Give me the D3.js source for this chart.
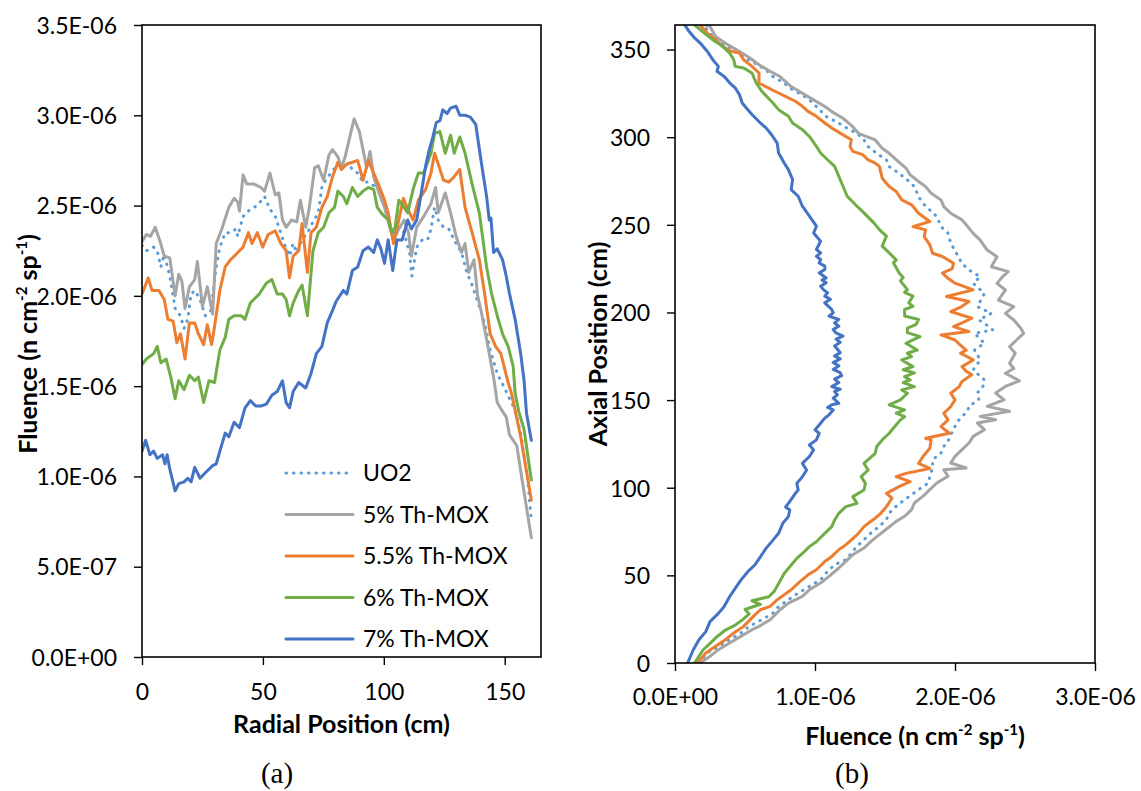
<!DOCTYPE html>
<html>
<head>
<meta charset="utf-8">
<script src="https://cdn.jsdelivr.net/npm/d3@7"></script>
<style>
  html, body { margin: 0; padding: 0; background: #fff; }
  svg { display: block; }
  text { font-family: Lato, "Open Sans", sans-serif; fill: #000; }
</style>
</head>
<body>
<svg id="fig" width="1141" height="791"></svg>
<script>
// Fluence values are given in units of 1e-6 n cm^-2 sp^-1
const UNIT = 1e-6;

const seriesNames = ["UO2", "5% Th-MOX", "5.5% Th-MOX", "6% Th-MOX", "7% Th-MOX"];
const seriesColors = ["#5B9BD5", "#A5A5A5", "#ED7D31", "#70AD47", "#4472C4"];

// ---- (a) radial profiles: [radial position (cm), fluence] ----
const radialUO2 = [[0,2.28],[1.8,2.25],[3.5,2.26],[4.8,2.27],[6.3,2.25],[7.8,2.16],[9.2,2.23],[11.5,2.11],[13.7,1.93],[15.9,1.89],[17.4,1.82],[18.9,1.87],[20.3,2.01],[21.8,2.03],[24,1.98],[26.2,1.89],[28.5,1.92],[30.7,2.16],[32.2,2.27],[34.4,2.35],[36.5,2.35],[38.9,2.37],[39.6,2.33],[41.8,2.44],[44.8,2.48],[47.7,2.50],[50.7,2.55],[52.9,2.48],[55.1,2.44],[56.6,2.38],[58.8,2.29],[61,2.22],[62.5,2.29],[64,2.24],[66.2,2.31],[68.4,2.35],[70.7,2.41],[72.9,2.46],[74.4,2.60],[75.9,2.64],[78.1,2.68],[81,2.73],[83.3,2.72],[85.5,2.73],[87,2.70],[89.2,2.68],[91.4,2.63],[93.6,2.63],[95.8,2.61],[98,2.59],[100.3,2.49],[102.5,2.38],[104,2.35],[106.2,2.38],[108.4,2.35],[110.6,2.24],[111.6,2.11],[113.6,2.27],[115.9,2.31],[118.1,2.31],[119.5,2.37],[121,2.49],[122.5,2.42],[124.7,2.38],[126.9,2.37],[129.1,2.31],[132.1,2.24],[134.3,2.13],[136.5,2.06],[139.5,1.94],[141.7,1.85],[144,1.70],[146.9,1.57],[149.9,1.49],[152,1.43],[154.3,1.37],[156.6,1.24],[159.5,0.98],[161,0.76]];
const radialTh50 = [[0,2.30],[1.8,2.34],[3.5,2.33],[5.5,2.38],[7.5,2.30],[9.2,2.22],[11.5,2.21],[13.7,2.00],[15.2,2.12],[16.5,2.08],[17.8,1.93],[19.6,2.05],[21.8,2.09],[22.9,2.19],[25,1.94],[27,2.05],[29.2,1.90],[30.7,2.29],[33,2.37],[35.9,2.49],[38.1,2.54],[39.6,2.52],[40.3,2.47],[41.8,2.67],[43.3,2.62],[46.2,2.62],[49.2,2.60],[50.7,2.58],[52.9,2.68],[55.1,2.56],[56.6,2.57],[58.1,2.42],[59.6,2.38],[61.8,2.42],[64,2.41],[65.5,2.53],[67.7,2.38],[69.2,2.49],[71.4,2.71],[72.9,2.72],[75.1,2.64],[77.3,2.78],[78.8,2.81],[81,2.77],[82.5,2.71],[84,2.77],[87.7,2.98],[89.9,2.91],[91.4,2.81],[92.9,2.71],[94.3,2.80],[95.8,2.66],[98,2.57],[100.3,2.49],[102.5,2.38],[104,2.31],[106.2,2.37],[108.4,2.42],[110.2,2.35],[111.4,2.22],[113.6,2.38],[116.5,2.44],[119.5,2.51],[121.4,2.60],[122.5,2.46],[125.4,2.57],[127.6,2.46],[129.9,2.33],[132.1,2.24],[133.6,2.29],[135.1,2.13],[137.3,2.20],[138.8,2.00],[140.5,1.90],[142.5,1.76],[145.4,1.55],[146.9,1.41],[149.1,1.36],[150.6,1.33],[152,1.23],[155,1.17],[157.2,0.98],[161,0.66]];
const radialTh55 = [[0,2.01],[2.6,2.10],[4.1,2.03],[7,2.03],[9.2,1.98],[10.7,1.87],[12.9,1.86],[14.4,1.74],[15.9,1.79],[17.8,1.65],[19.6,1.85],[21.8,1.85],[23.3,1.79],[25.5,1.73],[27,1.84],[28.8,1.73],[30,1.83],[32.2,2.03],[34.4,2.16],[36.6,2.20],[38.9,2.23],[41.8,2.27],[44,2.35],[45.5,2.29],[47.7,2.35],[49.9,2.27],[52.2,2.34],[55.1,2.36],[57.4,2.29],[59.6,2.25],[61,2.10],[62.5,2.22],[64.8,2.25],[66.2,2.40],[68.4,2.13],[69.9,2.35],[72.1,2.38],[74.4,2.49],[76.6,2.55],[78.8,2.66],[81,2.74],[82.5,2.70],[84.7,2.73],[87,2.74],[89.2,2.75],[91.4,2.64],[93.6,2.75],[95.8,2.68],[98,2.61],[100.3,2.53],[101.8,2.46],[104,2.29],[106.2,2.42],[108.1,2.54],[109.9,2.48],[112.1,2.42],[114.3,2.53],[117.3,2.59],[119.5,2.68],[121,2.79],[122.5,2.73],[124.7,2.64],[126.9,2.63],[129.1,2.66],[131.4,2.70],[133.6,2.49],[136.5,2.35],[139.5,2.20],[141.7,2.01],[144,1.79],[146.2,1.72],[148.4,1.68],[151.4,1.52],[152.8,1.46],[156.6,1.22],[161,0.87]];
const radialTh60 = [[0,1.62],[1.8,1.65],[4.8,1.68],[6.3,1.72],[7.8,1.63],[10,1.65],[11.9,1.55],[13.7,1.43],[15.2,1.53],[17.4,1.48],[19.6,1.56],[21.8,1.53],[23.3,1.55],[25.5,1.41],[27.7,1.53],[30,1.52],[32.2,1.70],[34.4,1.77],[35.9,1.87],[38.1,1.89],[41,1.89],[42.6,1.87],[44.8,1.96],[46.2,1.98],[48.5,2.01],[51.4,2.07],[53.7,2.09],[55.9,2.01],[58.1,2.01],[59.6,1.98],[61,1.89],[62.5,1.96],[64.8,2.03],[66.2,2.06],[68.4,1.89],[70.7,2.25],[72.9,2.35],[75.1,2.38],[77.3,2.46],[79.6,2.49],[81,2.58],[83.3,2.55],[84.7,2.51],[87,2.60],[89.2,2.55],[91.4,2.58],[93.6,2.60],[95.8,2.59],[97.3,2.49],[99.5,2.45],[101.8,2.42],[103.3,2.35],[104.7,2.38],[106.2,2.53],[108.4,2.49],[109.9,2.46],[112.1,2.59],[114.3,2.68],[116.5,2.68],[119.5,2.79],[121,2.90],[123.2,2.91],[125.4,2.79],[127.6,2.89],[129.1,2.79],[131.4,2.88],[133.6,2.79],[136.5,2.62],[139.5,2.46],[142.5,2.16],[144.6,2.01],[146.9,1.89],[149.1,1.79],[151.4,1.72],[153.5,1.61],[154.3,1.46],[155.8,1.36],[158,1.26],[161,0.98]];
const radialTh70 = [[0,1.14],[1.5,1.20],[3.3,1.12],[4.8,1.14],[6.3,1.10],[8.5,1.12],[9.5,1.07],[10.4,1.12],[11.5,1.04],[13.7,0.92],[15.2,0.96],[17.4,0.97],[18.9,0.99],[20.3,0.97],[21.8,1.05],[24,0.99],[26.2,1.02],[27.7,1.04],[29.2,1.06],[30.7,1.07],[32.2,1.14],[34.4,1.24],[35.9,1.22],[38.1,1.30],[40.3,1.27],[42.6,1.38],[44.8,1.42],[47,1.39],[49.2,1.39],[51.4,1.40],[53.7,1.45],[55.9,1.47],[58.1,1.53],[59.6,1.41],[61,1.38],[62.5,1.47],[64.8,1.52],[67.7,1.49],[69.9,1.57],[72.1,1.68],[74.4,1.72],[76.6,1.85],[78.8,1.92],[80.3,1.97],[83.3,2.03],[84.7,2.01],[87,2.14],[89.2,2.16],[91.4,2.25],[93.6,2.27],[95.8,2.24],[97.3,2.31],[98.8,2.26],[100.3,2.18],[101.8,2.31],[103.7,2.14],[105.4,2.31],[107.6,2.31],[109.9,2.42],[111.4,2.37],[113.6,2.42],[115,2.53],[117.3,2.72],[118.8,2.81],[120.3,2.88],[121.7,2.96],[123.2,2.97],[124.4,3.03],[126.2,3.01],[127.6,3.04],[129.9,3.05],[131.4,3.00],[133.6,3.00],[135.8,2.99],[138,2.95],[140.2,2.75],[142.5,2.55],[143.6,2.42],[144.3,2.43],[145.4,2.24],[146.9,2.26],[149.1,2.20],[150.6,2.11],[152,2.01],[154.3,1.87],[156.6,1.68],[158,1.53],[159,1.35],[161,1.20]];

// ---- (b) axial profiles: [fluence, axial position (cm)] ----
const axialUO2 = [[0.17,0],[0.23,5.7],[0.31,9.5],[0.39,13.3],[0.47,17.1],[0.53,20.9],[0.62,24.7],[0.70,28.5],[0.74,32.3],[0.81,36.1],[0.88,39.9],[0.96,43.7],[1.04,47.5],[1.09,52.3],[1.14,56.1],[1.22,58.9],[1.26,62.7],[1.30,66.6],[1.35,70.4],[1.40,74.2],[1.46,78],[1.51,81.8],[1.53,85.6],[1.58,89.4],[1.64,93.2],[1.69,96],[1.74,98.9],[1.81,102.7],[1.82,106.5],[1.84,111.3],[1.84,116],[1.90,119.8],[1.92,123.6],[1.95,126.5],[1.97,130.3],[1.99,133.1],[2.01,136.9],[2.05,140.7],[2.09,143.6],[2.10,146.5],[2.17,150.3],[2.16,154.1],[2.20,157.9],[2.21,161.5],[2.13,167.2],[2.18,172.9],[2.14,178.6],[2.21,182.4],[2.14,188.1],[2.27,190],[2.21,193.8],[2.17,195.7],[2.26,199.5],[2.16,203.3],[2.21,210.9],[2.13,216.6],[2.18,220.4],[2.10,224.2],[2.05,228],[2.01,233.8],[1.97,239.5],[1.95,245.2],[1.90,249],[1.87,254.7],[1.82,258.5],[1.77,262.3],[1.74,266.1],[1.71,271.8],[1.66,275.6],[1.60,279.4],[1.53,283.2],[1.51,287],[1.44,290.8],[1.38,294.6],[1.35,298.4],[1.30,302.2],[1.23,305.1],[1.17,308],[1.08,311.8],[1.01,317.5],[0.96,321.3],[0.91,324.1],[0.84,327],[0.78,330.8],[0.70,334.6],[0.65,338.4],[0.57,342.2],[0.49,346],[0.42,349.8],[0.34,353.6],[0.27,357.4],[0.22,362.1],[0.19,364]];
const axialTh50 = [[0.18,0],[0.25,3.8],[0.31,7.6],[0.39,11.4],[0.47,15.2],[0.55,19],[0.60,20.9],[0.68,24.7],[0.75,30.4],[0.81,34.2],[0.91,38],[0.96,41.8],[1.04,45.6],[1.10,49.4],[1.17,54.2],[1.22,58],[1.27,61.8],[1.35,65.6],[1.40,69.4],[1.46,73.2],[1.52,77],[1.58,80.8],[1.64,83.7],[1.69,87.5],[1.71,91.3],[1.77,95.1],[1.82,98.9],[1.87,102.7],[1.95,106.5],[1.92,110.3],[2.08,111.3],[1.97,114.1],[2.00,117.9],[2.05,121.7],[2.10,125.5],[2.13,129.3],[2.21,133.1],[2.16,136.9],[2.29,138.8],[2.18,140.7],[2.39,143.6],[2.23,146.4],[2.35,150.2],[2.29,154],[2.36,157.8],[2.46,161],[2.36,165.3],[2.42,168],[2.39,171],[2.43,176.7],[2.39,180.5],[2.44,184.3],[2.49,188.1],[2.47,191],[2.42,195.7],[2.36,199.5],[2.42,203.3],[2.31,207.1],[2.36,212.8],[2.30,216.6],[2.34,220.4],[2.38,223.3],[2.26,226.1],[2.30,231.8],[2.23,235.6],[2.18,241.3],[2.13,245.1],[2.09,249],[2.05,252.8],[1.97,256.6],[1.92,260.4],[1.90,264.2],[1.83,268],[1.79,271.8],[1.74,274.7],[1.68,278.5],[1.65,282.3],[1.61,285.1],[1.53,290.8],[1.48,293.7],[1.43,298.4],[1.31,302.2],[1.27,306],[1.20,310.8],[1.12,314.6],[1.07,317.5],[0.99,321.3],[0.91,325.1],[0.83,328.9],[0.75,334.6],[0.68,337.5],[0.60,341.3],[0.52,346],[0.44,349.8],[0.36,353.6],[0.29,357.4],[0.25,363.1],[0.22,364]];
const axialTh55 = [[0.16,0],[0.22,5.7],[0.29,9.5],[0.36,13.3],[0.42,17.1],[0.49,20.9],[0.56,26.6],[0.61,30.4],[0.68,32.3],[0.73,36.1],[0.78,38.9],[0.83,41.8],[0.88,45.6],[0.95,50.3],[1.01,53.2],[1.07,57.9],[1.12,60.8],[1.17,64.6],[1.22,67.4],[1.26,70.3],[1.30,73.1],[1.35,77.8],[1.38,79.7],[1.43,82.6],[1.47,85.4],[1.51,89.2],[1.55,94],[1.51,96.8],[1.60,100.6],[1.68,103.5],[1.58,106.3],[1.65,108.2],[1.82,111],[1.74,113.9],[1.77,117.7],[1.82,122.5],[1.83,127.3],[1.79,128.2],[1.96,131.1],[1.90,134.9],[1.95,138.7],[1.92,142.5],[1.97,146.3],[2.00,150.1],[1.97,153.9],[2.03,157.7],[2.05,160.6],[2.12,164.4],[2.08,166.5],[2.05,169.1],[2.13,172.9],[2.04,176.7],[2.08,178.5],[2.05,180.5],[2.00,184.3],[1.90,187.2],[2.10,189.1],[1.99,191.9],[2.05,194],[2.12,196.7],[1.97,200.5],[2.04,203],[2.10,206.2],[1.94,209.1],[2.13,212.9],[2.00,216.7],[1.95,219.5],[1.91,222.4],[1.98,225],[1.99,228.1],[1.91,231.9],[1.84,233.8],[1.82,238.6],[1.78,243.3],[1.79,247.1],[1.70,249],[1.82,251.9],[1.74,256.6],[1.69,261.4],[1.62,264.2],[1.58,269],[1.53,271.9],[1.48,276.6],[1.46,283.3],[1.43,285.2],[1.38,287.1],[1.34,290],[1.27,291.9],[1.25,294.7],[1.26,298.5],[1.18,302.3],[1.12,305.2],[1.07,308.1],[1.01,311.9],[0.95,314.7],[0.91,317.6],[0.86,320.5],[0.81,322.4],[0.74,325.2],[0.69,327.1],[0.60,330.9],[0.60,336.6],[0.55,340.4],[0.49,344.2],[0.46,348],[0.40,349],[0.34,351.8],[0.29,355.6],[0.23,359.4],[0.18,364]];
const axialTh60 = [[0.14,0],[0.20,7.4],[0.25,11.2],[0.30,15],[0.36,18.8],[0.43,21.6],[0.48,24.5],[0.53,28],[0.50,30.5],[0.61,33.5],[0.55,35.5],[0.67,37.8],[0.71,41],[0.74,45.4],[0.78,51.1],[0.83,55.9],[0.87,59.7],[0.91,62.5],[0.96,66.4],[1.01,69.2],[1.07,74],[1.12,77.8],[1.14,81.6],[1.17,85.4],[1.22,89.2],[1.30,91.1],[1.27,94.9],[1.35,98.7],[1.36,102.5],[1.33,106.3],[1.38,110.1],[1.35,113.9],[1.43,119.6],[1.44,123.4],[1.48,127.3],[1.53,131.1],[1.57,134.9],[1.61,138.7],[1.64,140.5],[1.58,142.5],[1.64,144.4],[1.53,147.3],[1.61,150.1],[1.66,153.9],[1.62,155.8],[1.71,157.7],[1.63,160],[1.68,161.5],[1.64,163.4],[1.71,165.5],[1.63,167.3],[1.70,169.1],[1.62,172.9],[1.69,174.8],[1.66,176.7],[1.73,178.6],[1.65,182.4],[1.70,184.3],[1.75,186.2],[1.66,188.5],[1.66,191],[1.72,193],[1.74,196],[1.64,198],[1.64,201.7],[1.70,203.5],[1.67,205.5],[1.70,209.3],[1.64,211.5],[1.66,213],[1.64,215],[1.61,218],[1.63,220],[1.60,222.6],[1.56,228.3],[1.58,230],[1.53,234],[1.48,237.8],[1.51,243.5],[1.46,247.3],[1.42,251.1],[1.35,256.8],[1.30,260.6],[1.23,266.3],[1.20,272],[1.17,277.7],[1.14,283.3],[1.09,287.1],[1.04,291],[1.01,294.8],[0.96,300.4],[0.91,304.3],[0.84,308.1],[0.81,311.9],[0.74,315.7],[0.70,319.5],[0.62,326.2],[0.58,331],[0.55,336.6],[0.49,339.5],[0.43,340.4],[0.42,344.2],[0.39,348],[0.34,351.8],[0.27,355.6],[0.21,359.4],[0.14,364]];
const axialTh70 = [[0.09,0],[0.13,7.4],[0.17,13.1],[0.22,17.9],[0.25,23.6],[0.31,28.3],[0.35,32.1],[0.39,37.8],[0.43,42.6],[0.47,47.3],[0.52,52.1],[0.57,55.9],[0.61,60.6],[0.65,65.4],[0.70,70.1],[0.74,74],[0.77,79.7],[0.81,83.5],[0.82,87.3],[0.79,89],[0.81,91.1],[0.86,96.8],[0.88,98.7],[0.87,102.5],[0.91,106.3],[0.94,110.1],[0.91,113.9],[0.96,117.8],[0.99,121.6],[0.96,124.4],[1.01,127.3],[1.03,131.1],[1.00,133],[1.04,136.8],[1.07,139.7],[1.10,141.6],[1.13,144.4],[1.09,145.8],[1.12,147.3],[1.17,148.2],[1.13,151.1],[1.16,153],[1.14,154.9],[1.18,156.2],[1.12,157.7],[1.17,160],[1.14,162],[1.19,164],[1.18,165.7],[1.13,167.5],[1.17,169.5],[1.13,171.4],[1.18,173.5],[1.14,175.2],[1.18,177.1],[1.14,180.9],[1.18,183],[1.15,184.8],[1.20,186.5],[1.15,188.3],[1.13,190.3],[1.17,192.2],[1.14,194],[1.17,196],[1.10,197.9],[1.13,199.8],[1.12,201.7],[1.07,205.5],[1.11,207.5],[1.07,209.3],[1.09,211.2],[1.06,213],[1.04,215],[1.08,217],[1.05,218.5],[1.08,219.7],[1.03,222.6],[1.07,224.5],[1.07,226.4],[1.03,228.2],[1.04,230.2],[1.01,232],[1.04,234],[1.01,235.9],[1.04,240.6],[0.99,245.3],[1.01,249.2],[0.96,254.9],[0.91,260.6],[0.88,266.3],[0.83,270.1],[0.84,275.8],[0.81,281.5],[0.78,285.3],[0.74,291],[0.73,296.6],[0.69,301.4],[0.65,305.3],[0.61,308.1],[0.55,312.9],[0.52,315.7],[0.48,319.5],[0.46,324.3],[0.43,328.1],[0.39,331],[0.35,334.7],[0.30,337.6],[0.31,340.4],[0.27,344.2],[0.23,349],[0.18,353.7],[0.14,356.6],[0.10,360.4],[0.07,364]];

// ---- axis ticks ----
const radialTicks = [0, 50, 100, 150];
const fluenceTicksA = [0, 0.5e-6, 1.0e-6, 1.5e-6, 2.0e-6, 2.5e-6, 3.0e-6, 3.5e-6];
const fluenceLabelsA = ["0.0E+00", "5.0E-07", "1.0E-06", "1.5E-06", "2.0E-06", "2.5E-06", "3.0E-06", "3.5E-06"];
const fluenceTicksB = [0, 1.0e-6, 2.0e-6, 3.0e-6];
const fluenceLabelsB = ["0.0E+00", "1.0E-06", "2.0E-06", "3.0E-06"];
const axialTicks = [0, 50, 100, 150, 200, 250, 300, 350];

const radialSeries = [radialUO2, radialTh50, radialTh55, radialTh60, radialTh70];
const axialSeries = [axialUO2, axialTh50, axialTh55, axialTh60, axialTh70];

const svg = d3.select("#fig");
const FONT = 23;
const TITLE_FONT = 25;

function styleLine(sel, i) {
  sel.attr("fill", "none")
     .attr("stroke", seriesColors[i])
     .attr("stroke-width", 3)
     .attr("stroke-linejoin", "round")
     .attr("stroke-linecap", "round");
  if (i === 0) sel.attr("stroke-dasharray", "0.5 7");
}

function frame(g, w, h) {
  g.append("rect").attr("x", 0).attr("y", 0).attr("width", w).attr("height", h)
    .attr("fill", "none").attr("stroke", "#000").attr("stroke-width", 1.6);
}

function styleAxis(g) {
  g.select(".domain").remove();
  g.selectAll(".tick line").attr("stroke", "#000").attr("stroke-width", 1.4);
  g.selectAll(".tick text").attr("font-size", FONT).attr("font-family", "Lato, sans-serif").attr("fill", "#000");
}

// ===================== panel (a) =====================
const A = { left: 142, top: 25, width: 399, height: 632 };
const xA = d3.scaleLinear().domain([0, 165]).range([0, A.width]);
const yA = d3.scaleLinear().domain([0, 3.5e-6]).range([A.height, 0]);
const gA = svg.append("g").attr("transform", `translate(${A.left},${A.top})`);

gA.append("defs").append("clipPath").attr("id", "clipA")
  .append("rect").attr("x", 0).attr("y", -4).attr("width", A.width).attr("height", A.height + 4);

const lineA = d3.line().x(d => xA(d[0])).y(d => yA(d[1] * UNIT));
const plotA = gA.append("g").attr("clip-path", "url(#clipA)");
radialSeries.forEach((s, i) => {
  plotA.append("path").datum(s).attr("d", lineA).call(styleLine, i);
});

const axAx = gA.append("g").attr("transform", `translate(0,${A.height})`)
  .call(d3.axisBottom(xA).tickValues(radialTicks).tickSize(8).tickSizeOuter(0).tickFormat(d3.format("d")));
styleAxis(axAx);
axAx.selectAll(".tick text").attr("y", 43).attr("dy", null);

const ayA = gA.append("g")
  .call(d3.axisLeft(yA).tickValues(fluenceTicksA).tickSize(8).tickSizeOuter(0)
    .tickFormat((d, i) => fluenceLabelsA[i]));
styleAxis(ayA);
ayA.selectAll(".tick text").attr("x", -25).attr("dy", "0.36em");
frame(gA, A.width, A.height);

// legend
const legend = gA.append("g").attr("transform", `translate(${286 - A.left},${473 - A.top})`);
seriesNames.forEach((name, i) => {
  const row = legend.append("g").attr("transform", `translate(0,${i * 41.5})`);
  row.append("line").attr("x1", 0).attr("x2", 67).attr("y1", 0).attr("y2", 0).call(styleLine, i);
  row.append("text").attr("x", 77).attr("y", 0).attr("dy", "0.36em")
    .attr("font-size", FONT).text(name);
});

// axis titles (a)
svg.append("text").attr("x", A.left + A.width / 2).attr("y", 733)
  .attr("text-anchor", "middle").attr("font-size", TITLE_FONT).attr("font-weight", "bold")
  .text("Radial Position (cm)");

function fluenceTitle(sel) {
  sel.attr("font-size", TITLE_FONT).attr("font-weight", "bold").attr("text-anchor", "middle");
  sel.append("tspan").text("Fluence (n cm");
  sel.append("tspan").attr("font-size", 15).attr("dy", -10).text("-2");
  sel.append("tspan").attr("dy", 10).text(" sp");
  sel.append("tspan").attr("font-size", 15).attr("dy", -10).text("-1");
  sel.append("tspan").attr("dy", 10).text(")");
}
svg.append("text").attr("transform", `translate(37,${A.top + A.height / 2 + 3}) rotate(-90)`)
  .call(fluenceTitle);

svg.append("text").attr("x", 277).attr("y", 783).attr("text-anchor", "middle")
  .style("font-family", "'Liberation Serif', 'Times New Roman', serif").attr("font-size", 29).text("(a)");

// ===================== panel (b) =====================
const B = { left: 675, top: 25, width: 420, height: 638 };
const xB = d3.scaleLinear().domain([0, 3e-6]).range([0, B.width]);
const yB = d3.scaleLinear().domain([0, 364]).range([B.height, 0]);
const gB = svg.append("g").attr("transform", `translate(${B.left},${B.top})`);

gB.append("defs").append("clipPath").attr("id", "clipB")
  .append("rect").attr("x", 0).attr("y", 0).attr("width", B.width).attr("height", B.height);

const lineB = d3.line().x(d => xB(d[0] * UNIT)).y(d => yB(d[1]));
const plotB = gB.append("g").attr("clip-path", "url(#clipB)");
axialSeries.forEach((s, i) => {
  plotB.append("path").datum(s).attr("d", lineB).call(styleLine, i);
});

const axB = gB.append("g").attr("transform", `translate(0,${B.height})`)
  .call(d3.axisBottom(xB).tickValues(fluenceTicksB).tickSize(8).tickSizeOuter(0)
    .tickFormat((d, i) => fluenceLabelsB[i]));
styleAxis(axB);
axB.selectAll(".tick text").attr("y", 42).attr("dy", null);

const ayB = gB.append("g")
  .call(d3.axisLeft(yB).tickValues(axialTicks).tickSize(8).tickSizeOuter(0).tickFormat(d3.format("d")));
styleAxis(ayB);
ayB.selectAll(".tick text").attr("x", -25).attr("dy", "0.36em");
frame(gB, B.width, B.height);

svg.append("text").attr("x", 915).attr("y", 745).call(fluenceTitle);

svg.append("text").attr("transform", `translate(607,${B.top + B.height / 2}) rotate(-90)`)
  .attr("text-anchor", "middle").attr("font-size", TITLE_FONT).attr("font-weight", "bold")
  .text("Axial Position (cm)");

svg.append("text").attr("x", 852).attr("y", 783).attr("text-anchor", "middle")
  .style("font-family", "'Liberation Serif', 'Times New Roman', serif").attr("font-size", 29).text("(b)");
</script>
</body>
</html>
